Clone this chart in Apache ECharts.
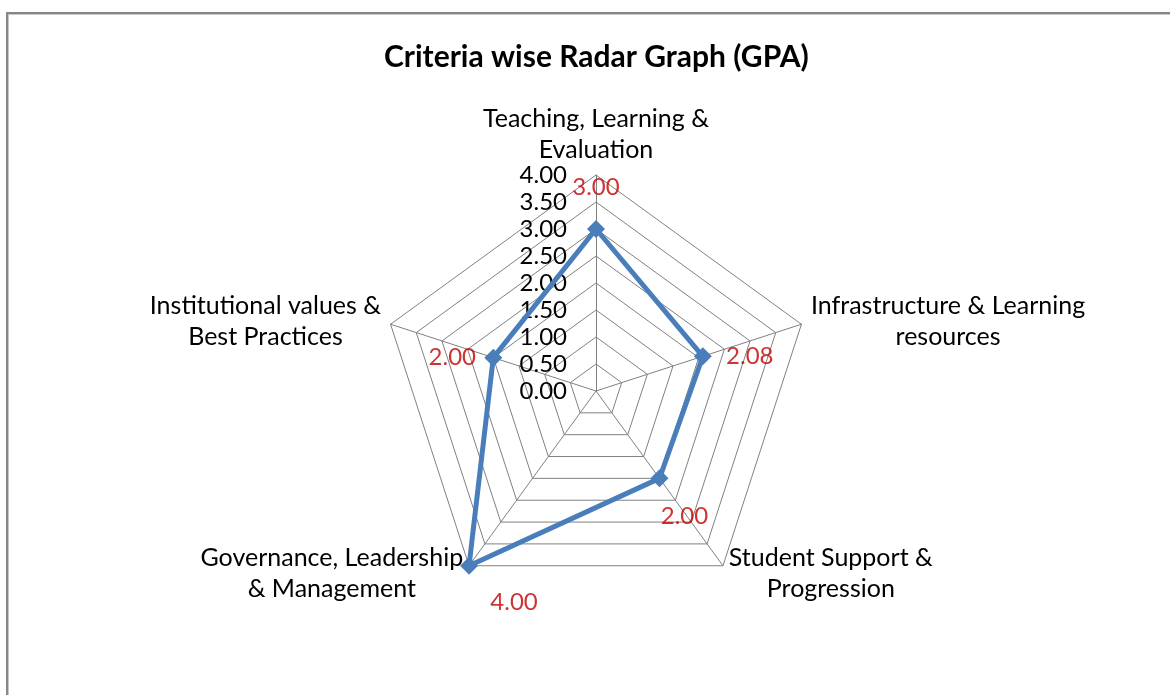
<!DOCTYPE html>
<html>
<head>
<meta charset="utf-8">
<title>Criteria wise Radar Graph (GPA)</title>
<script src="https://cdn.jsdelivr.net/npm/echarts@6/dist/echarts.min.js"></script>
<style>
  html, body { margin: 0; padding: 0; background: #fff; overflow: hidden; }
  #frame {
    position: absolute; left: 6px; top: 12px; width: 1300px; height: 800px;
    border-left: 2px solid #878787; border-top: 2px solid #878787;
    box-shadow: inset 1px 1px 0 #c8c8c8;
  }
  #chart { position: absolute; left: 0; top: 0; width: 1170px; height: 695px; }
</style>
</head>
<body>
<div id="frame"></div>
<div id="chart"></div>
<script>
// 评价指标（顺时针，从顶部开始）
var categories = [
  'Teaching, Learning &\nEvaluation',
  'Infrastructure & Learning\nresources',
  'Student Support &\nProgression',
  'Governance, Leadership\n& Management',
  'Institutional values &\nBest Practices'
];
var gpaValues = [3.00, 2.08, 2.00, 4.00, 2.00];
var axisMax = 4;
var axisStep = 0.5;
// 数值标签相对于点的偏移
var labelOffsets = [[0, -42], [47, 0], [25, 38], [45, 37], [-41, 0]];

var FONT = 'Lato, "Open Sans", sans-serif';
var CX = 596, CY = 391, R = 216;

// echarts 雷达图是逆时针排列的，这里把顺序倒过来
var order = [0, 4, 3, 2, 1];
var indicators = order.map(function(i){
  return { name: categories[i], max: axisMax, min: 0 };
});
var radarValues = order.map(function(i){ return gpaValues[i]; });

var myChart = echarts.init(document.getElementById('chart'), null, { renderer: 'canvas' });
var option = {
  backgroundColor: 'transparent',
  animation: false,
  title: {
    text: 'Criteria wise Radar Graph (GPA)',
    left: 379,
    top: 35,
    textStyle: { fontFamily: FONT, fontSize: 30, fontWeight: 'bold', color: '#000', lineHeight: 34 }
  },
  radar: {
    center: [CX, CY],
    radius: R,
    startAngle: 90,
    splitNumber: axisMax / axisStep,
    shape: 'polygon',
    axisNameGap: 10,
    indicator: indicators,
    axisName: {
      color: '#000',
      fontFamily: FONT,
      fontSize: 25,
      lineHeight: 31,
      formatter: function(name){
        return name.split('\n').map(function(s){ return '{a|' + s + '}'; }).join('\n');
      },
      rich: {
        a: { align: 'center', fontFamily: FONT, fontSize: 25, lineHeight: 31, color: '#000' }
      }
    },
    axisLine: { lineStyle: { color: '#808080', width: 1 } },
    splitLine: { lineStyle: { color: '#808080', width: 1 } },
    splitArea: { show: false }
  },
  // 叠加一个极坐标系，用来画刻度标签和数值标签
  polar: { center: [CX, CY], radius: R },
  angleAxis: {
    type: 'category',
    data: categories,
    startAngle: 90,
    clockwise: true,
    boundaryGap: false,
    axisLine: { show: false },
    axisTick: { show: false },
    axisLabel: { show: false },
    splitLine: { show: false }
  },
  radiusAxis: {
    type: 'value',
    min: 0,
    max: axisMax,
    interval: axisStep,
    axisLine: { show: false },
    axisTick: { show: false },
    splitLine: { show: false },
    axisLabel: {
      margin: 29,
      fontFamily: FONT,
      fontSize: 24,
      color: '#000',
      formatter: function(v){ return v.toFixed(2); }
    }
  },
  series: [
    {
      name: 'GPA',
      type: 'radar',
      symbol: 'diamond',
      symbolSize: 18,
      lineStyle: { color: '#4A7EBB', width: 5 },
      itemStyle: { color: '#4A7EBB' },
      z: 3,
      data: [{ value: radarValues }]
    },
    {
      name: 'labels',
      type: 'scatter',
      coordinateSystem: 'polar',
      symbolSize: 0,
      silent: true,
      z: 4,
      data: gpaValues.map(function(v, i){
        return {
          value: [v, i],
          label: {
            show: true,
            position: 'inside',
            offset: labelOffsets[i],
            formatter: v.toFixed(2),
            fontFamily: FONT,
            fontSize: 24,
            color: '#C00000'
          }
        };
      })
    }
  ]
};
myChart.setOption(option);
</script>
</body>
</html>
